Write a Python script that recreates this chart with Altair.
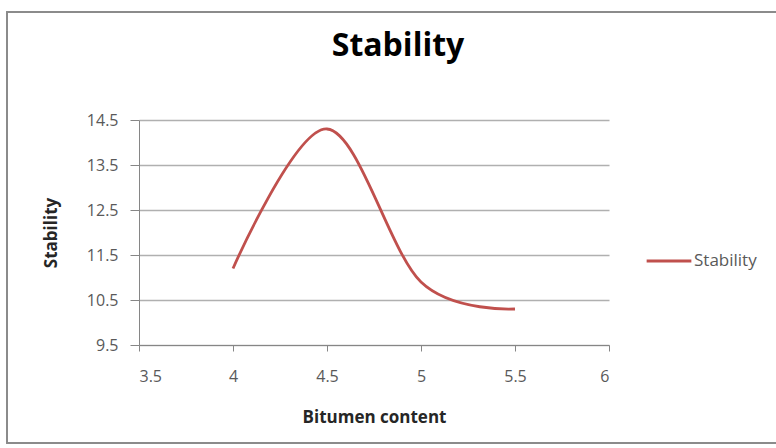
import altair as alt
import pandas as pd

# Marshall stability against bitumen content
bitumen_content = [4.0, 4.5, 5.0, 5.5]
stability = [11.2, 14.3, 10.9, 10.3]
series_name = ["Stability"] * len(bitumen_content)

x_ticks = [3.5, 4.0, 4.5, 5.0, 5.5, 6.0]
y_ticks = [9.5, 10.5, 11.5, 12.5, 13.5, 14.5]

df = pd.DataFrame({"Bitumen content": bitumen_content,
                   "Stability": stability,
                   "Series": series_name})

FONT = "Open Sans"
LABEL_GREY = "#595959"
AXIS_GREY = "#868686"

line = alt.Chart(df).mark_line(
    interpolate="cardinal", tension=0, strokeWidth=2.8, clip=False
).encode(
    x=alt.X("Bitumen content:Q",
            scale=alt.Scale(domain=[3.5, 6.0], nice=False, zero=False),
            axis=alt.Axis(values=x_ticks, format="~g", grid=False,
                          title="Bitumen content", titleFontSize=17,
                          titleFontWeight="bold", titleColor="#262626",
                          titlePadding=25, labelPadding=17,
                          tickSize=6, tickColor=AXIS_GREY,
                          domainColor=AXIS_GREY, labelFontSize=16,
                          labelColor=LABEL_GREY)),
    y=alt.Y("Stability:Q",
            scale=alt.Scale(domain=[9.5, 14.5], nice=False, zero=False),
            axis=alt.Axis(values=y_ticks, format=".1f", grid=True,
                          gridColor="#b0b0b0", gridWidth=1.3,
                          title="Stability", titleFontSize=17,
                          titleFontWeight="bold", titleColor="#262626",
                          titlePadding=26, labelPadding=12,
                          tickSize=9, tickColor=AXIS_GREY,
                          domainColor=AXIS_GREY, labelFontSize=16,
                          labelColor=LABEL_GREY)),
    color=alt.Color("Series:N",
                    scale=alt.Scale(range=["#c0504d"]),
                    legend=alt.Legend(title=None, orient="none",
                                      legendX=506, legendY=117,
                                      symbolType="stroke",
                                      symbolSize=2000,
                                      symbolStrokeWidth=3,
                                      labelFontSize=17,
                                      labelColor=LABEL_GREY,
                                      labelOffset=1)),
)

# outer chart frame
frame = alt.Chart(df).mark_rect(
    fill=None, stroke="#8a8a8a", strokeWidth=1.5, clip=False
).encode(
    x=alt.value(-132), x2=alt.value(645),
    y=alt.value(-108), y2=alt.value(323),
)

chart = alt.layer(frame, line).properties(
    width=470, height=225,
    title=alt.Title("Stability", fontSize=32, fontWeight="bold",
                    font=FONT, color="#000000", anchor="middle",
                    baseline="alphabetic", offset=-77, dx=24),
    autosize=alt.AutoSizeParams(type="none"),
    padding={"left": 139, "top": 120, "right": 167, "bottom": 103},
).configure(font=FONT).configure_view(stroke=None).configure_axis(
    labelFont=FONT, titleFont=FONT
).configure_legend(labelFont=FONT)

chart.save("out.html", embed_options={"renderer": "svg", "actions": False})
